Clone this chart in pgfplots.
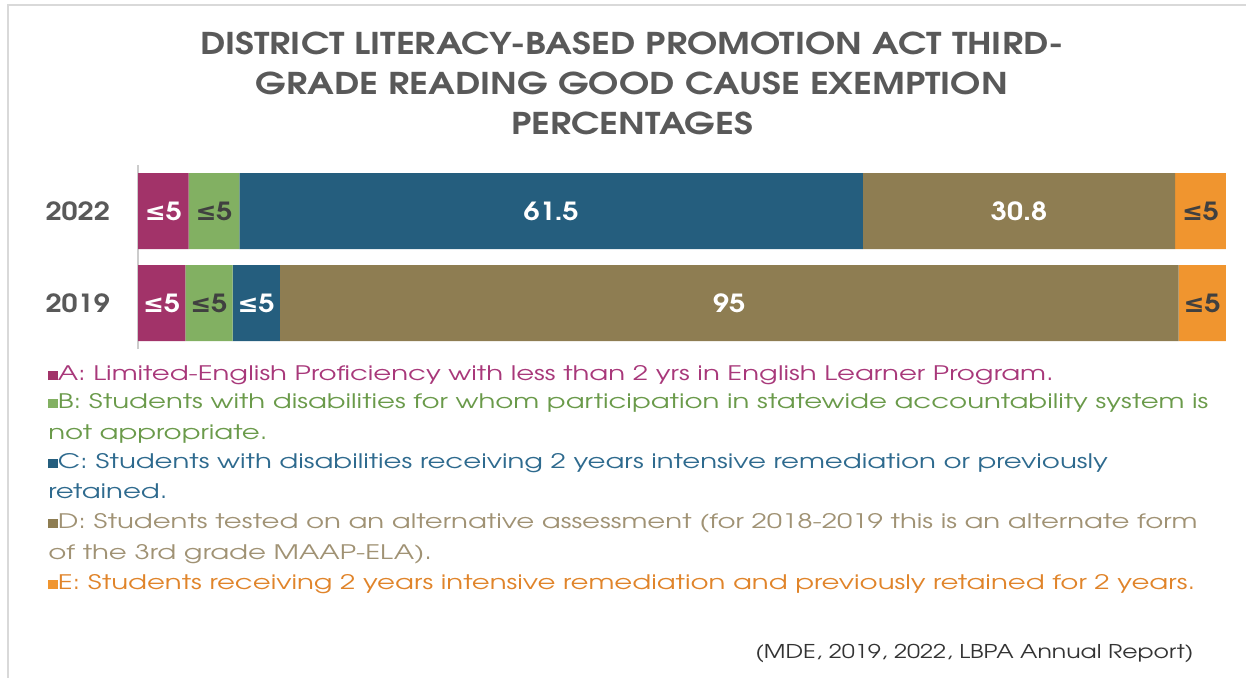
\documentclass[border=0pt]{standalone}
\usepackage{pgfplots}
\usepackage{pgfplotstable}
\pgfplotsset{compat=1.18}
\usepackage{fontspec}
\setmainfont{TeX Gyre Adventor}
\newfontfamily\symfont{DejaVu Sans}
\newfontfamily\titlefont[FakeStretch=1.21]{TeX Gyre Adventor}
\newfontfamily\labelfont[FakeStretch=1.15]{TeX Gyre Adventor}
\newfontfamily\legendfont[FakeStretch=1.38]{TeX Gyre Adventor}
\newfontfamily\srcfont[FakeStretch=1.24]{TeX Gyre Adventor}

\definecolor{cA}{HTML}{A23369}
\definecolor{cB}{HTML}{82B062}
\definecolor{cC}{HTML}{255E7E}
\definecolor{cD}{HTML}{8E7D52}
\definecolor{cE}{HTML}{F0952F}
\definecolor{tA}{HTML}{A8387A}
\definecolor{tB}{HTML}{6A9A4A}
\definecolor{tC}{HTML}{2E6A8E}
\definecolor{tD}{HTML}{A09274}
\definecolor{tE}{HTML}{E0842A}
\definecolor{titlegray}{HTML}{595959}

% raw values per year; each bar is scaled by its own total ("le" = shown as <=5)
\pgfplotstableread{
y  A  B  C    D    E  tot   lA  lB  lC    lD    lE
0  5  5  5    95   5  115   le  le  le    95    le
1  5  5  61.5 30.8 5  107.3 le  le  61.5  30.8  le
}\exemptions

\def\lestr{le}
\newcommand{\barlabel}[1]{\edef\tmplab{#1}\ifx\tmplab\lestr{\symfont ≤}5\else\tmplab\fi}
\newcommand{\sq}[1]{{\color{#1}\rule{4.7pt}{4.7pt}}}

\begin{document}
\begin{tikzpicture}
\useasboundingbox (0,0) rectangle (623pt,-338.5pt);
\draw[color=black!15, line width=1pt] (4pt,-345pt) -- (4pt,-2.5pt) -- (630pt,-2.5pt);

\begin{axis}[
    at={(69pt,-174.5pt)}, anchor=south west,
    scale only axis,
    width=544pt, height=92pt,
    xbar stacked,
    bar width=38pt,
    xmin=0, xmax=100.01,
    ymin=-0.5, ymax=1.5,
    clip=false,
    axis x line=none,
    axis y line*=left,
    y axis line style={draw=black!20, line width=0.8pt, -},
    ytick={0,1},
    yticklabels={2019,2022},
    major tick length=0pt,
    yticklabel style={font=\labelfont\fontsize{12.5pt}{14pt}\selectfont\bfseries, text=titlegray, xshift=-10.5pt},
    point meta=explicit symbolic,
    nodes near coords={\barlabel{\pgfplotspointmeta}},
    nodes near coords align={center},
    every node near coord/.append style={font=\labelfont\fontsize{12.5pt}{14pt}\selectfont\bfseries},
]
\addplot[fill=cA, draw=none, every node near coord/.append style={text=white}]
    table[y=y, x expr=\thisrow{A}/\thisrow{tot}*100, meta=lA] {\exemptions};
\addplot[fill=cB, draw=none, every node near coord/.append style={text=black!75}]
    table[y=y, x expr=\thisrow{B}/\thisrow{tot}*100, meta=lB] {\exemptions};
\addplot[fill=cC, draw=none, every node near coord/.append style={text=white}]
    table[y=y, x expr=\thisrow{C}/\thisrow{tot}*100, meta=lC] {\exemptions};
\addplot[fill=cD, draw=none, every node near coord/.append style={text=white}]
    table[y=y, x expr=\thisrow{D}/\thisrow{tot}*100, meta=lD] {\exemptions};
\addplot[fill=cE, draw=none, every node near coord/.append style={text=black!75}]
    table[y=y, x expr=\thisrow{E}/\thisrow{tot}*100, meta=lE] {\exemptions};
\end{axis}

% title
\begin{scope}[every node/.style={anchor=base, text=titlegray, font=\titlefont\fontsize{15pt}{18pt}\selectfont\bfseries, inner sep=0pt}]
\node at (316pt,-27pt) {DISTRICT LITERACY-BASED PROMOTION ACT THIRD-};
\node at (316pt,-47pt) {GRADE READING GOOD CAUSE EXEMPTION};
\node at (316pt,-67pt) {PERCENTAGES};
\end{scope}

% category notes
\begin{scope}[every node/.style={anchor=base west, font=\legendfont\fontsize{10pt}{12pt}\selectfont, inner sep=0pt}]
\node[text=tA] at (24pt,-190pt) {\sq{cA}A: Limited-English Proficiency with less than 2 yrs in English Learner Program.};
\node[text=tB] at (24pt,-204pt) {\sq{cB}B: Students with disabilities for whom participation in statewide accountability system is};
\node[text=tB] at (24pt,-219.5pt) {not appropriate.};
\node[text=tC] at (24pt,-234pt) {\sq{cC}C: Students with disabilities receiving 2 years intensive remediation or previously};
\node[text=tC] at (24pt,-249pt) {retained.};
\node[text=tD] at (24pt,-264pt) {\sq{cD}D: Students tested on an alternative assessment (for 2018-2019 this is an alternate form};
\node[text=tD] at (24pt,-279.5pt) {of the 3rd grade MAAP-ELA).};
\node[text=tE] at (24pt,-294.5pt) {\sq{cE}E: Students receiving 2 years intensive remediation and previously retained for 2 years.};
\end{scope}

\node[anchor=base east, inner sep=0pt, text=black!80, font=\srcfont\fontsize{9.5pt}{11pt}\selectfont] at (597pt,-329pt) {(MDE, 2019, 2022, LBPA Annual Report)};
\end{tikzpicture}
\end{document}
